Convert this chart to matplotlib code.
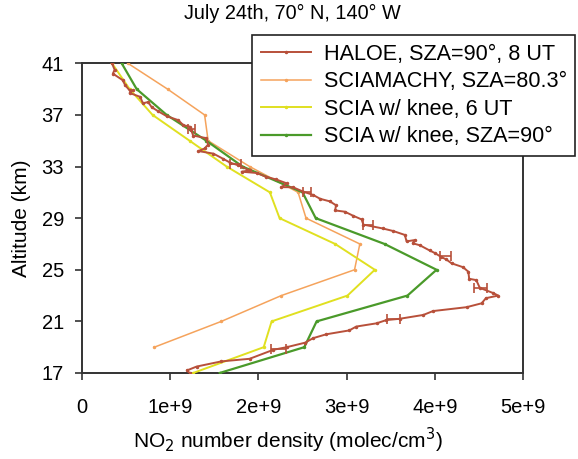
import numpy as np
import matplotlib.pyplot as plt

plt.rcParams['font.family'] = ['Liberation Sans', 'DejaVu Sans']

# HALOE, SZA=90, 8 UT  (units of 1e9 molec/cm3, km)
haloe_x = [0.34, 0.37, 0.35, 0.46, 0.49, 0.54, 0.58, 0.54, 0.66, 0.69, 0.75, 0.79,
           0.86, 0.96, 1.09, 1.15, 1.22, 1.24, 1.26, 1.41, 1.43, 1.39, 1.32, 1.49,
           1.60, 1.68, 1.77, 1.90, 1.81, 1.98, 2.09, 2.20, 2.32, 2.26, 2.39, 2.51,
           2.62, 2.70, 2.81, 2.88, 2.87, 2.98, 3.07, 3.17, 3.19, 3.41, 3.53, 3.66,
           3.68, 3.77, 3.75, 3.83, 3.94, 4.00, 4.07, 4.13, 4.19, 4.32, 4.38, 4.39,
           4.47, 4.51, 4.66, 4.72, 4.58, 4.53, 4.36, 3.98, 3.87, 3.60, 3.45, 3.34,
           3.11, 3.03, 2.77, 2.62, 2.53, 2.32, 2.17, 1.90, 1.58, 1.30, 1.19, 1.22]
haloe_alt = [41.0, 40.5, 40.2, 39.7, 39.3, 38.9, 38.9, 38.7, 38.4, 37.9, 38.0, 37.6,
             37.3, 36.9, 36.6, 36.2, 36.1, 35.8, 35.4, 35.2, 34.7, 34.4, 34.2, 34.0,
             33.6, 33.3, 33.1, 32.7, 32.6, 32.5, 32.2, 32.0, 31.7, 31.4, 31.4, 31.05,
             30.8, 30.5, 30.3, 30.0, 29.6, 29.5, 29.2, 28.9, 28.5, 28.2, 28.0, 27.7,
             27.2, 27.3, 27.05, 26.9, 26.5, 26.3, 26.0, 25.8, 25.5, 25.2, 24.85, 24.3,
             24.2, 23.6, 23.2, 23.0, 22.8, 22.4, 22.1, 21.8, 21.5, 21.2, 21.1, 20.85,
             20.6, 20.3, 20.0, 19.7, 19.35, 19.0, 18.8, 18.1, 17.9, 17.5, 17.2, 17.0]

# error bars on the HALOE profile
err_x = [1.24, 1.74, 2.55, 3.24, 4.12, 4.52, 3.53, 2.23]
err_alt = [35.9, 33.2, 31.0, 28.5, 26.1, 23.6, 21.2, 18.85]
err_size = [0.04, 0.065, 0.05, 0.057, 0.066, 0.074, 0.072, 0.085]

# SCIAMACHY, SZA=80.3
scia_x = [0.52, 0.97, 1.39, 1.43, 1.90, 2.45, 2.54, 3.15, 3.09, 2.26, 1.58, 0.82]
scia_alt = [41, 39, 37, 35, 33, 31, 29, 27, 25, 23, 21, 19]

# SCIA w/ knee, 6 UT
knee6_x = [0.34, 0.54, 0.80, 1.22, 1.64, 2.13, 2.24, 2.87, 3.32, 3.01, 2.15, 2.06, 1.26]
knee6_alt = [41, 39, 37, 35, 33, 31, 29, 27, 25, 23, 21, 19, 17]

# SCIA w/ knee, SZA=90
knee90_x = [0.45, 0.62, 0.96, 1.41, 1.82, 2.50, 2.65, 3.43, 4.02, 3.69, 2.66, 2.52, 1.56]
knee90_alt = [41, 39, 37, 35, 33, 31, 29, 27, 25, 23, 21, 19, 17]

fig = plt.figure(figsize=(5.78, 4.59), dpi=100)
ax = fig.add_axes([82/578, 1-373/459, (523-82)/578, (373-63.3)/459])

e9 = 1e9
ax.plot(np.array(haloe_x)*e9, haloe_alt, color='#b8503a', lw=1.4, marker='.', ms=3,
        label='HALOE, SZA=90°, 8 UT', zorder=5)
ax.errorbar(np.array(err_x)*e9, err_alt, xerr=np.array(err_size)*e9, fmt='none',
            ecolor='#b8503a', elinewidth=1.2, capsize=3.5, capthick=1.2, zorder=5)
ax.plot(np.array(scia_x)*e9, scia_alt, color='#f5a35c', lw=1.1, marker='.', ms=3,
        label='SCIAMACHY, SZA=80.3°', zorder=3)
ax.plot(np.array(knee6_x)*e9, knee6_alt, color='#e0e020', lw=1.4, marker='.', ms=3,
        label='SCIA w/ knee, 6 UT', zorder=3)
ax.plot(np.array(knee90_x)*e9, knee90_alt, color='#4a9a2a', lw=1.6, marker='.', ms=3,
        label='SCIA w/ knee, SZA=90°', zorder=4)

ax.set_xlim(0, 5e9)
ax.set_ylim(17, 41)
ax.set_xticks([0, 1e9, 2e9, 3e9, 4e9, 5e9])
ax.set_xticklabels(['0', '1e+9', '2e+9', '3e+9', '4e+9', '5e+9'])
ax.set_yticks(np.arange(17, 42, 4))
ax.tick_params(labelsize=14.5, color='#333333', length=5, width=1.2, pad=8)
ax.tick_params(axis='x', pad=13)
for s in ax.spines.values():
    s.set_color('#333333')
    s.set_linewidth(1.4)

fig.text(22/578, 1-218/459, 'Altitude (km)', rotation=90, ha='center', va='center', fontsize=15)
fig.text(288/578, 1-440/459, 'NO$_2$ number density (molec/cm$^3$)', ha='center', va='center',
         fontsize=15)
fig.text(292/578, 1-13/459, 'July 24th, 70° N, 140° W', ha='center', va='center', fontsize=14.3)

leg = ax.legend(loc='upper left', bbox_to_anchor=(252/578, 1-35/459), bbox_transform=fig.transFigure,
                fontsize=15.6, frameon=True, fancybox=False, borderpad=0.4, labelspacing=0.3,
                handlelength=2.3, handletextpad=0.6, borderaxespad=0)
leg.get_frame().set_edgecolor('#222222')
leg.get_frame().set_linewidth(1.2)
leg.get_frame().set_alpha(1)

fig.savefig('out.png', dpi=100)
